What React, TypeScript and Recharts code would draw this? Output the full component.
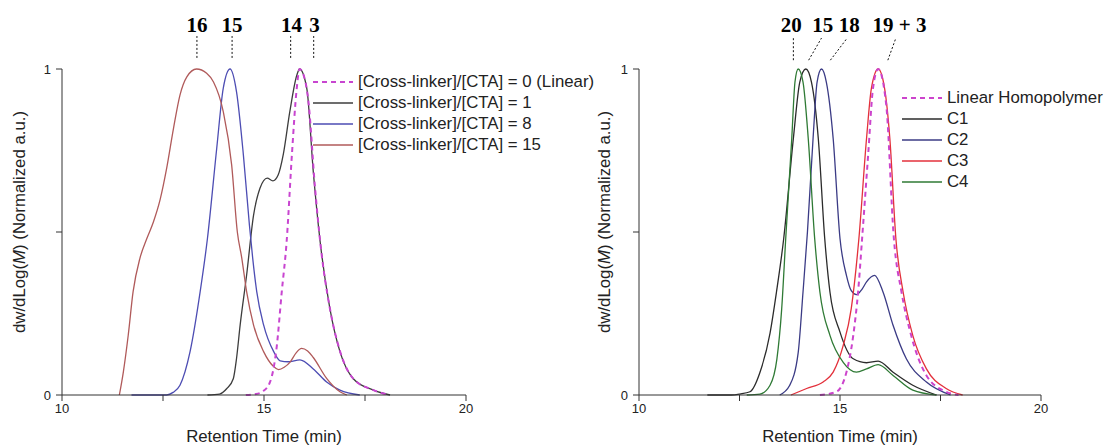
import { LineChart, Line, XAxis, YAxis, ReferenceLine, ReferenceDot } from "recharts";

const FONT = '"Liberation Sans", Arial, sans-serif';
const SERIF = '"Liberation Serif", "Times New Roman", serif';

// x ticks (retention time, min) and y ticks (normalized)
const xTicks = [10, 12.5, 15, 17.5, 20];
const yTicks = [0, 0.5, 1];

// ---- left panel: [time, signal] ----
const linearLeft = [
	[14.55, 0], [14.8, 0.003], [14.98, 0.012], [15.15, 0.04], [15.31, 0.143], [15.44, 0.317],
	[15.56, 0.47], [15.69, 0.736], [15.81, 0.94], [15.88, 1], [15.97, 0.985], [16.1, 0.9],
	[16.26, 0.64], [16.4, 0.46], [16.63, 0.266], [16.88, 0.135], [17.21, 0.05], [17.71, 0.015], [18.1, 0],
];
const ratio1 = [
	[13.6, 0], [13.9, 0.003], [14.08, 0.02], [14.24, 0.05], [14.32, 0.112], [14.41, 0.215], [14.57, 0.368],
	[14.74, 0.55], [14.9, 0.634], [15.08, 0.665], [15.22, 0.657], [15.35, 0.675], [15.48, 0.74],
	[15.64, 0.87], [15.81, 0.98], [15.88, 1], [16.06, 0.94], [16.22, 0.685], [16.39, 0.47],
	[16.63, 0.266], [16.88, 0.133], [17.21, 0.05], [17.71, 0.015], [18.12, 0],
];
const ratio8 = [
	[11.72, 0], [12.59, 0], [12.75, 0.008], [12.92, 0.03], [13.17, 0.133], [13.42, 0.317],
	[13.6, 0.48], [13.83, 0.757], [13.99, 0.94], [14.16, 1], [14.32, 0.93], [14.49, 0.736],
	[14.64, 0.52], [14.72, 0.42], [14.82, 0.317], [14.99, 0.215], [15.24, 0.133], [15.4, 0.105],
	[15.6, 0.102], [15.89, 0.108], [16.22, 0.08], [16.55, 0.04], [16.88, 0.015], [17.37, 0],
];
const ratio15 = [
	[11.42, 0], [11.52, 0.072], [11.64, 0.184], [11.76, 0.317], [11.93, 0.42], [12.1, 0.48],
	[12.26, 0.53], [12.43, 0.6], [12.59, 0.695], [12.76, 0.818], [12.92, 0.92], [13.09, 0.976],
	[13.33, 1], [13.58, 0.987], [13.75, 0.96], [13.99, 0.87], [14.2, 0.705], [14.34, 0.5],
	[14.45, 0.42], [14.57, 0.317], [14.74, 0.215], [14.99, 0.133], [15.24, 0.087], [15.36, 0.078],
	[15.5, 0.085], [15.64, 0.1], [15.8, 0.13], [15.93, 0.143], [16.08, 0.135], [16.22, 0.115],
	[16.55, 0.051], [16.88, 0.01], [17.05, 0],
];

// ---- right panel ----
const linearRight = [
	[14.5, 0], [14.91, 0.01], [15.16, 0.07], [15.33, 0.183], [15.45, 0.316], [15.55, 0.48],
	[15.7, 0.736], [15.82, 0.94], [15.95, 1], [16.15, 0.89], [16.34, 0.48], [16.53, 0.316],
	[16.77, 0.183], [17.15, 0.06], [17.64, 0.01], [17.95, 0],
];
const c1 = [
	[11.7, 0], [12.3, 0], [12.51, 0.003], [12.76, 0.01], [13.01, 0.07], [13.26, 0.19],
	[13.42, 0.316], [13.6, 0.48], [13.84, 0.787], [14.0, 0.96], [14.15, 1], [14.29, 0.96],
	[14.46, 0.787], [14.62, 0.48], [14.75, 0.316], [15.0, 0.193], [15.33, 0.111], [15.66, 0.099],
	[15.95, 0.104], [16.32, 0.07], [16.81, 0.03], [17.4, 0],
];
const c2 = [
	[13.5, 0], [13.75, 0.03], [13.96, 0.13], [14.08, 0.316], [14.19, 0.5], [14.33, 0.787],
	[14.43, 0.96], [14.54, 1], [14.66, 0.96], [14.83, 0.787], [15.0, 0.48], [15.16, 0.367],
	[15.28, 0.32], [15.41, 0.308], [15.55, 0.325], [15.66, 0.347], [15.86, 0.367], [16.07, 0.316],
	[16.32, 0.214], [16.65, 0.111], [17.15, 0.04], [17.75, 0],
];
const c3 = [
	[13.78, 0], [14.17, 0.02], [14.58, 0.04], [14.83, 0.07], [15.08, 0.152], [15.28, 0.265],
	[15.47, 0.48], [15.66, 0.787], [15.78, 0.94], [15.95, 1], [16.11, 0.94], [16.24, 0.787],
	[16.39, 0.48], [16.57, 0.316], [16.81, 0.183], [17.15, 0.08], [17.64, 0.02], [18.05, 0],
];
const c4 = [
	[12.68, 0], [13.01, 0.003], [13.26, 0.03], [13.43, 0.11], [13.55, 0.265], [13.65, 0.48],
	[13.8, 0.787], [13.88, 0.96], [13.96, 1], [14.08, 0.96], [14.21, 0.787], [14.37, 0.48],
	[14.5, 0.316], [14.75, 0.183], [15.08, 0.1], [15.41, 0.07], [15.66, 0.08], [15.95, 0.093],
	[16.32, 0.06], [16.81, 0.015], [17.4, 0],
];

// peak annotations: label, label position, dashed pointer bottom/top (minutes)
const leftMarks = [
	{ label: "16", at: 13.34, lo: 13.34, hi: 13.34 },
	{ label: "15", at: 14.21, lo: 14.21, hi: 14.21 },
	{ label: "14", at: 15.68, lo: 15.66, hi: 15.66 },
	{ label: "3", at: 16.25, lo: 16.23, hi: 16.23 },
];
const rightMarks = [
	{ label: "20", at: 13.79, lo: 13.84, hi: 13.84 },
	{ label: "15", at: 14.57, lo: 14.22, hi: 14.54 },
	{ label: "18", at: 15.23, lo: 14.76, hi: 15.18 },
	{ label: "19 + 3", at: 16.48, lo: 16.19, hi: 16.39 },
];

const toPts = (arr: number[][]) => arr.map(([t, v]) => ({ t, v }));

const leftSeries = [
	{ name: "[Cross-linker]/[CTA] = 1", data: ratio1, color: "#3d3d3d" },
	{ name: "[Cross-linker]/[CTA] = 8", data: ratio8, color: "#4d4db3" },
	{ name: "[Cross-linker]/[CTA] = 15", data: ratio15, color: "#b05a5a" },
	{ name: "[Cross-linker]/[CTA] = 0 (Linear)", data: linearLeft, color: "#c845d0", dash: "5 4" },
];
const leftLegend = [leftSeries[3], leftSeries[0], leftSeries[1], leftSeries[2]];

const rightSeries = [
	{ name: "C1", data: c1, color: "#2b2b2b" },
	{ name: "C2", data: c2, color: "#3b3b85" },
	{ name: "C3", data: c3, color: "#e3303b" },
	{ name: "C4", data: c4, color: "#2f7a35" },
	{ name: "Linear Homopolymer", data: linearRight, color: "#cc44cc", dash: "5 4" },
];
const rightLegend = [rightSeries[4], rightSeries[0], rightSeries[1], rightSeries[2], rightSeries[3]];

type Series = { name: string; data: number[][]; color: string; dash?: string };
type Mark = { label: string; at: number; lo: number; hi: number };

function Panel({ series, marks, margin, pointer }: {
	series: Series[]; marks: Mark[]; margin: any; pointer: [number, number];
}) {
	const tickStyle = { fontSize: 13, fill: "#222", fontFamily: FONT };
	return (
		<LineChart width={552} height={446} margin={margin}>
			<XAxis
				type="number"
				dataKey="t"
				domain={[10, 20]}
				ticks={xTicks}
				tickFormatter={(v: number) => (v % 5 === 0 ? String(v) : "")}
				height={30}
				tickSize={6}
				tickMargin={3}
				tick={tickStyle}
				stroke="#333"
			/>
			<YAxis
				type="number"
				domain={[0, 1]}
				ticks={yTicks}
				tickFormatter={(v: number) => (v === 0.5 ? "" : String(v))}
				width={40}
				tickSize={6}
				tickMargin={5}
				tick={tickStyle}
				stroke="#333"
			/>
			{series.map((s) => (
				<Line
					key={s.name}
					data={toPts(s.data)}
					dataKey="v"
					type="monotone"
					stroke={s.color}
					strokeWidth={s.dash ? 2 : 1.3}
					strokeDasharray={s.dash}
					dot={false}
					activeDot={false}
					isAnimationActive={false}
				/>
			))}
			{marks.map((m) => (
				<ReferenceLine
					key={"l" + m.label}
					segment={[{ x: m.lo, y: pointer[0] }, { x: m.hi, y: pointer[1] }]}
					ifOverflow="visible"
					stroke="#111"
					strokeWidth={1}
					strokeDasharray="2 2"
				/>
			))}
			{marks.map((m) => (
				<ReferenceDot
					key={"d" + m.label}
					x={m.at}
					y={1.114}
					r={0}
					ifOverflow="visible"
					shape={(p: any) => (
						<text x={p.cx} y={p.cy} textAnchor="middle" fontFamily={SERIF} fontWeight="bold" fontSize={21} fill="#000">
							{m.label}
						</text>
					)}
				/>
			))}
		</LineChart>
	);
}

function LegendBox({ items, left, top }: { items: Series[]; left: number; top: number }) {
	return (
		<div style={{ position: "absolute", left, top, fontFamily: FONT, fontSize: 16.8, color: "#222" }}>
			{items.map((s) => (
				<div key={s.name} style={{ display: "flex", alignItems: "center", height: 21, whiteSpace: "nowrap" }}>
					<svg width={40} height={6} style={{ marginRight: 5 }}>
						<line x1={0} y1={3} x2={40} y2={3} stroke={s.color} strokeWidth={s.dash ? 2 : 1.5} strokeDasharray={s.dash} />
					</svg>
					<span>{s.name}</span>
				</div>
			))}
		</div>
	);
}

function AxisTitles({ cx, yx }: { cx: number; yx: number }) {
	return (
		<>
			<div style={{ position: "absolute", left: cx, top: 437, transform: "translate(-50%, -50%)", fontFamily: FONT, fontSize: 16.8, color: "#222", whiteSpace: "nowrap" }}>
				Retention Time (min)
			</div>
			<div style={{ position: "absolute", left: yx, top: 222, transform: "translate(-50%, -50%) rotate(-90deg)", fontFamily: FONT, fontSize: 16.8, color: "#222", whiteSpace: "nowrap" }}>
				dw/dLog(<i>M</i>) (Normalized a.u.)
			</div>
		</>
	);
}

export default function App() {
	return (
		<div style={{ position: "absolute", left: 0, top: 0, width: 1104, height: 446, background: "#fff", overflow: "hidden" }}>
			<div style={{ position: "absolute", left: 0, top: 0 }}>
				<Panel series={leftSeries} marks={leftMarks} margin={{ top: 69, right: 86, bottom: 21, left: 22 }} pointer={[1.034, 1.101]} />
			</div>
			<div style={{ position: "absolute", left: 552, top: 0 }}>
				<Panel series={rightSeries} marks={rightMarks} margin={{ top: 69, right: 63, bottom: 21, left: 47 }} pointer={[1.027, 1.095]} />
			</div>
			<LegendBox items={leftLegend} left={313} top={71.5} />
			<LegendBox items={rightLegend} left={902} top={87.5} />
			<AxisTitles cx={264} yx={20} />
			<AxisTitles cx={840} yx={605} />
		</div>
	);
}
